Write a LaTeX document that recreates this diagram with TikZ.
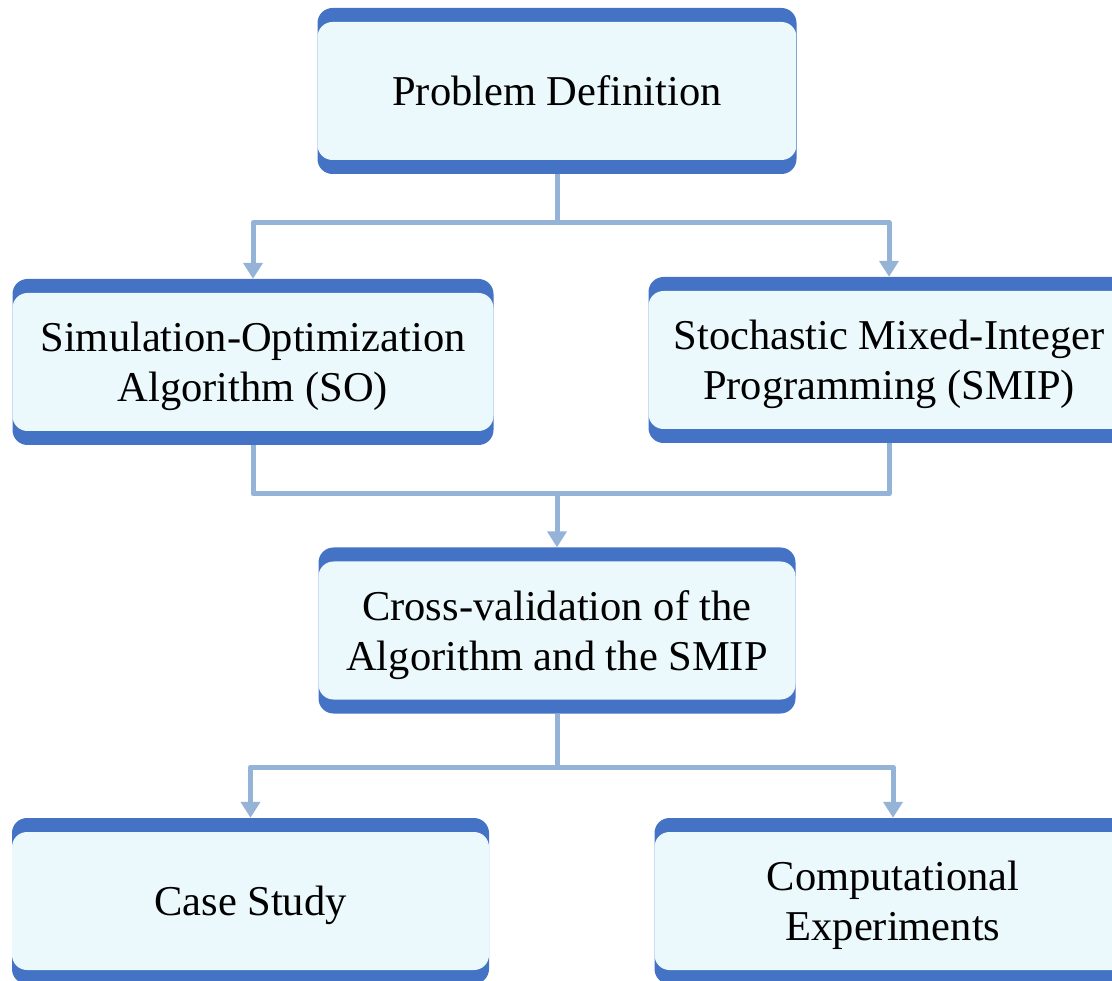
\documentclass[tikz,border=0pt]{standalone}
\usepackage{fontspec}
\setmainfont{Liberation Serif}
\usepackage{tikz}
\usetikzlibrary{arrows.meta,positioning}
\definecolor{barblue}{HTML}{4472C4}
\definecolor{paleblue}{HTML}{EBF8FC}
\definecolor{linkblue}{HTML}{95B3D7}
\tikzset{
  stage/.style={rectangle, rounded corners=15pt, fill=barblue, minimum width=479pt,
    minimum height=166pt, align=center, text depth=0pt, font=\fontsize{42.5}{50}\selectfont,
    path picture={\fill[paleblue] ([yshift=-14pt]path picture bounding box.north west)
      rectangle ([yshift=14pt]path picture bounding box.south east);}},
  link/.style={draw=linkblue, line width=5pt, line join=round},
  flow/.style={link, -{Triangle[width=19pt,length=16pt]}}
}
\begin{document}
\begin{tikzpicture}[x=1pt,y=-1pt]
  \useasboundingbox (0,0) rectangle (1112,981);
  \clip (0,0) rectangle (1112,981);
  \node [stage] (pd) at (557,91) {Problem Definition};
  \node [stage, minimum width=481pt] (so) at (253,362) {Simulation-Optimization\\Algorithm (SO)};
  \node [stage, minimum width=481pt] (smip) at (889,360) {Stochastic Mixed-Integer\\Programming (SMIP)};
  \node [stage, minimum width=477pt] (cv) at (557,630.5) {Cross-validation of the\\Algorithm and the SMIP};
  \node [stage, minimum width=477pt] (cs) at (250.5,901) {Case Study};
  \node [stage, minimum width=477pt] (ce) at (893,901) {Computational\\Experiments};
  \coordinate (split1) at (557,223);
  \coordinate (join1) at (557,494);
  \coordinate (split2) at (557,767);
  % first level
  \draw [link] (pd.south) -- (split1);
  \draw [flow] (split1) -| (so.north);
  \draw [flow] (split1) -| (smip.north);
  % merge
  \draw [link] (so.south) |- (join1) -| (smip.south);
  \draw [flow] (join1) -- (cv.north);
  % last level
  \draw [link] (cv.south) -- (split2);
  \draw [flow] (split2) -| (cs.north);
  \draw [flow] (split2) -| (ce.north);
\end{tikzpicture}
\end{document}
